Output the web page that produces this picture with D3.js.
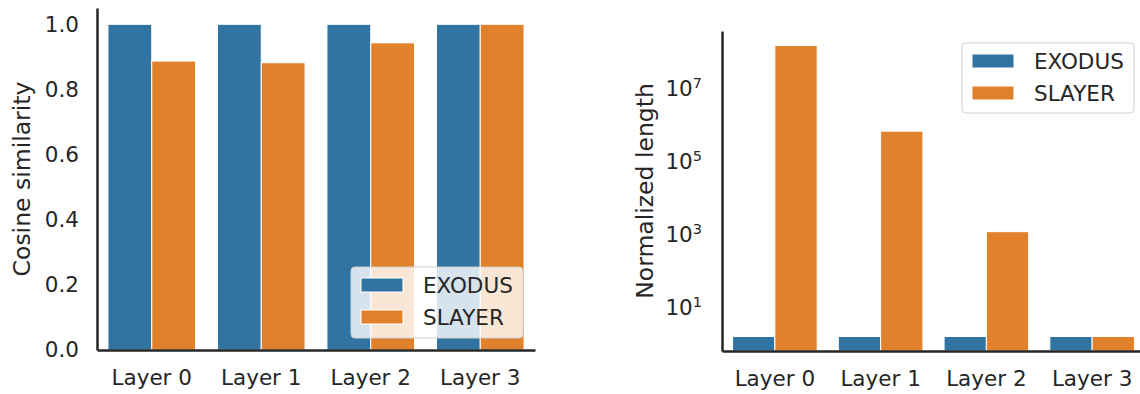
<!DOCTYPE html>
<html>
<head>
<meta charset="utf-8">
<script src="https://cdn.jsdelivr.net/npm/d3@7"></script>
<style>
  html, body { margin: 0; padding: 0; background: #fff; }
  svg { display: block; font-family: "DejaVu Sans", sans-serif; }
</style>
</head>
<body>
<svg id="chart" width="1140" height="394"></svg>
<script>
// Per-layer gradient comparison: EXODUS vs SLAYER
const layers = ["Layer 0", "Layer 1", "Layer 2", "Layer 3"];
const methods = ["EXODUS", "SLAYER"];
const colors = ["#3274a1", "#e1812c"];

const cosineExodus = [1.0, 1.0, 1.0, 1.0];
const cosineSlayer = [0.887, 0.882, 0.943, 1.0];
const cosineTicks = [0.0, 0.2, 0.4, 0.6, 0.8, 1.0];

const lengthExodus = [1, 1, 1, 1];
const lengthSlayer = [9.6e7, 4.3e5, 750, 1];
const lengthTicks = [1e1, 1e3, 1e5, 1e7];

const ink = "#262626";
const tickFont = 21.5;
const labelFont = 23.5;
const svg = d3.select("#chart");

function rows(a, b) {
  return layers.map((layer, i) => ({ layer, values: [a[i], b[i]] }));
}

function drawBars(g, data, x, hue, y, base) {
  const grp = g.selectAll("g.layer").data(data).join("g")
    .attr("class", "layer")
    .attr("transform", d => `translate(${x(d.layer)},0)`);
  grp.selectAll("rect")
    .data(d => d.values.map((v, j) => ({ v, m: methods[j] })))
    .join("rect")
    .attr("x", d => hue(d.m))
    .attr("width", hue.bandwidth())
    .attr("y", d => y(d.v))
    .attr("height", d => base - y(d.v))
    .attr("fill", (d, j) => colors[j])
    .attr("stroke", "#fff")
    .attr("stroke-width", 1);
}

function styleAxis(sel) {
  sel.select(".domain").attr("stroke", ink).attr("stroke-width", 2.5);
  sel.selectAll(".tick line").remove();
  sel.selectAll(".tick text").attr("fill", ink).attr("font-size", tickFont)
    .attr("font-family", "DejaVu Sans");
}

function drawLegend(g, x0, y0, w, h) {
  g.append("rect")
    .attr("x", x0).attr("y", y0).attr("width", w).attr("height", h)
    .attr("rx", 4).attr("ry", 4)
    .attr("fill", "#fff").attr("fill-opacity", 0.8)
    .attr("stroke", "#d0d0d0").attr("stroke-width", 1);
  methods.forEach((m, i) => {
    const cy = y0 + 18 + i * 32;
    g.append("rect")
      .attr("x", x0 + 10).attr("y", cy - 7).attr("width", 42).attr("height", 14)
      .attr("fill", colors[i]).attr("stroke", "#fff").attr("stroke-width", 1);
    g.append("text")
      .attr("x", x0 + 72).attr("y", cy).attr("dy", "0.36em")
      .attr("fill", ink).attr("font-size", tickFont).text(m);
  });
}

// ---- Left panel: cosine similarity ----
{
  const left = 97, right = 535, top = 8, base = 350;
  const x = d3.scaleBand().domain(layers).range([left, right])
    .paddingInner(0.2).paddingOuter(0.1);
  const hue = d3.scaleBand().domain(methods).range([0, x.bandwidth()]);
  const y = d3.scaleLinear().domain([0, 1.05]).range([base, top]);
  const g = svg.append("g");

  drawBars(g, rows(cosineExodus, cosineSlayer), x, hue, y, base);

  g.append("g").attr("transform", `translate(${left},0)`)
    .call(d3.axisLeft(y).tickValues(cosineTicks).tickFormat(d3.format(".1f"))
      .tickSize(0).tickPadding(18))
    .call(styleAxis);
  g.append("g").attr("transform", `translate(0,${base})`)
    .call(d3.axisBottom(x).tickSize(0).tickPadding(20))
    .call(styleAxis);

  g.append("text")
    .attr("transform", `translate(30,${(top + base) / 2}) rotate(-90)`)
    .attr("text-anchor", "middle").attr("fill", ink).attr("font-size", labelFont)
    .text("Cosine similarity");

  drawLegend(g, 351, 267, 172, 71);
}

// ---- Right panel: normalized length (log scale) ----
{
  const left = 722, right = 1145, top = 31, base = 351;
  const x = d3.scaleBand().domain(layers).range([left, right])
    .paddingInner(0.2).paddingOuter(0.1);
  const hue = d3.scaleBand().domain(methods).range([0, x.bandwidth()]);
  const all = lengthExodus.concat(lengthSlayer);
  const lo = Math.log10(d3.min(all)), hi = Math.log10(d3.max(all));
  const pad = (hi - lo) * 0.05;
  const y = d3.scaleLog().domain([10 ** (lo - pad), 10 ** (hi + pad)]).range([base, top]);
  const g = svg.append("g");

  drawBars(g, rows(lengthExodus, lengthSlayer), x, hue, y, base);

  const ay = g.append("g").attr("transform", `translate(${left},0)`)
    .call(d3.axisLeft(y).tickValues(lengthTicks).tickFormat(() => "")
      .tickSize(0).tickPadding(20))
    .call(styleAxis);
  ay.selectAll(".tick text").each(function (d) {
    const t = d3.select(this).attr("dy", "0.66em");
    t.append("tspan").text("10");
    t.append("tspan").attr("font-size", 14.5).attr("dy", "-0.52em")
      .text(Math.round(Math.log10(d)));
  });
  g.append("g").attr("transform", `translate(0,${base})`)
    .call(d3.axisBottom(x).tickSize(0).tickPadding(20))
    .call(styleAxis);

  g.append("text")
    .attr("transform", `translate(653,${(top + base) / 2}) rotate(-90)`)
    .attr("text-anchor", "middle").attr("fill", ink).attr("font-size", labelFont)
    .text("Normalized length");

  drawLegend(g, 962, 43, 172, 70);
}
</script>
</body>
</html>
